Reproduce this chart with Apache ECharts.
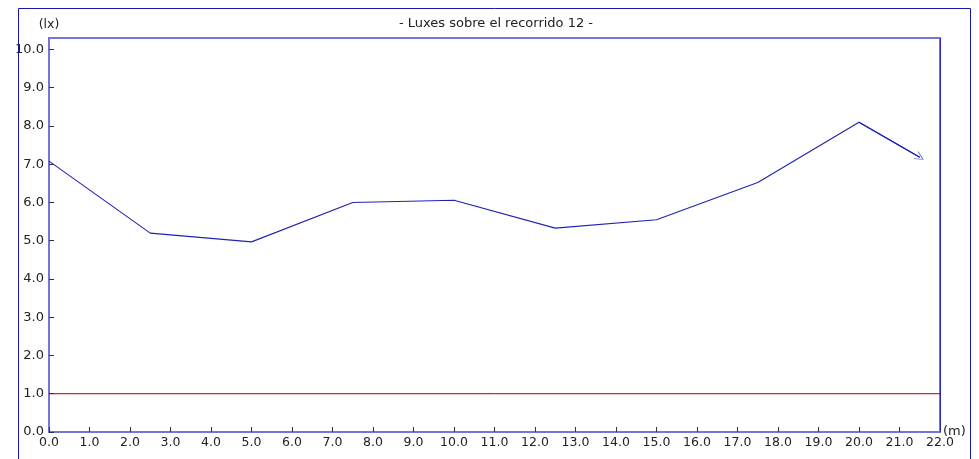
<!DOCTYPE html>
<html>
<head>
<meta charset="utf-8">
<script src="https://cdn.jsdelivr.net/npm/echarts@6/dist/echarts.min.js"></script>
<style>html,body{margin:0;padding:0;background:#fff;}#c{width:979px;height:459px;}</style>
</head>
<body>
<div id="c"></div>
<script>
const titleText = '- Luxes sobre el recorrido 12 -';
const distances = [0, 2.5, 5, 7.5, 10, 12.5, 15, 17.5, 20, 21.5];
const luxes = [7.08, 5.2, 4.97, 6.0, 6.06, 5.33, 5.55, 6.52, 8.1, 7.18];
const thresholdLux = 1.0;
const xRange = [0, 22];
const xName = '(m)';
const yName = '(lx)';

const font = 'DejaVu Sans, Verdana, sans-serif';
const chart = echarts.init(document.getElementById('c'));
const pts = distances.map((d, i) => [d, luxes[i]]);
const n = pts.length;

chart.setOption({
  animation: false,
  grid: { left: 49, right: 39, top: 38, bottom: 27, show: true, borderColor: '#7575d9', borderWidth: 2,
          containLabel: false, outerBoundsMode: 'none' },
  graphic: [
    { type: 'rect', shape: { x: 18.5, y: 8.5, width: 952, height: 470 }, style: { fill: 'none', stroke: '#1818a8', lineWidth: 1 }, z: -1 },
    { type: 'line', shape: { x1: 940.5, y1: 38, x2: 940.5, y2: 432 }, style: { stroke: '#2a2ab4', lineWidth: 1 }, z: 10 },
    { type: 'text', x: 496, y: 17, style: { text: titleText, font: '13px ' + font, fill: '#222', align: 'center', verticalAlign: 'top' } }
  ],
  xAxis: {
    type: 'value', min: xRange[0], max: xRange[1], interval: 1,
    name: xName, nameLocation: 'end', nameGap: 3, nameMoveOverlap: false,
    nameTextStyle: { fontFamily: font, fontSize: 13, color: '#222', verticalAlign: 'middle' },
    axisLine: { show: true, lineStyle: { color: '#7575d9', width: 2 } },
    axisTick: { show: true, inside: true, length: 5, lineStyle: { color: '#333', width: 1 } },
    axisLabel: { fontFamily: font, fontSize: 12.5, color: '#222', margin: 4, formatter: v => v.toFixed(1) },
    splitLine: { show: false }
  },
  yAxis: {
    type: 'value', min: 0, max: 10.3, interval: 1,
    name: yName, nameLocation: 'end', nameGap: 7, nameMoveOverlap: false,
    nameTextStyle: { fontFamily: font, fontSize: 12.5, color: '#222', align: 'center' },
    axisLine: { show: true, lineStyle: { color: '#7575d9', width: 2 } },
    axisTick: { show: true, inside: true, length: 5, lineStyle: { color: '#333', width: 1 } },
    axisLabel: { fontFamily: font, fontSize: 13, color: '#222', margin: 5, showMaxLabel: false,
      formatter: v => (Math.abs(v - Math.round(v)) < 1e-6 ? v.toFixed(1) : '') },
    splitLine: { show: false }
  },
  series: [
    {
      type: 'line', data: xRange.map(x => [x, thresholdLux]), symbol: 'none', z: 2, silent: true,
      lineStyle: { color: '#a00000', width: 1 }
    },
    {
      type: 'line', data: pts, symbol: 'none', z: 3,
      lineStyle: { color: '#2222b0', width: 1.1 },
      markLine: {
        silent: true, animation: false,
        symbol: ['none', 'path://M0,20 L10,0 L20,20 L18.6,20 L10,2.8 L1.4,20 Z'],
        symbolSize: [9, 9],
        label: { show: false },
        lineStyle: { color: '#2222b0', width: 1.1, type: 'solid' },
        data: [[{ coord: pts[n - 2] }, { coord: pts[n - 1] }]]
      }
    }
  ]
});
</script>
</body>
</html>
